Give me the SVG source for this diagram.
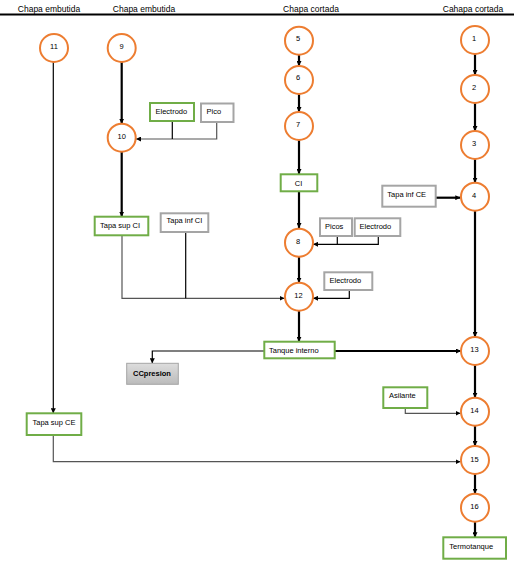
<svg xmlns="http://www.w3.org/2000/svg" width="514" height="571" viewBox="0 0 514 571">
<style>
text{font-family:"Liberation Sans",Arial,sans-serif;font-size:7.5px;fill:#000}
.hd{font-size:8.5px;text-anchor:middle}
.c{fill:#fff;stroke:#ED7D31;stroke-width:2}
.g{fill:#fff;stroke:#70AD47;stroke-width:2}
.y{fill:#fff;stroke:#A5A5A5;stroke-width:2}
.n{text-anchor:middle}
.thick{fill:none;stroke:#000;stroke-width:2.2}
.thin{fill:none;stroke:#000;stroke-width:1.2}
.gr{fill:none;stroke:#555;stroke-width:1.2}
</style>
<defs>
<marker id="a" viewBox="0 0 10 10" refX="10" refY="5" markerWidth="5" markerHeight="5" markerUnits="userSpaceOnUse" orient="auto"><path d="M0,0L10,5L0,10z" fill="#000"/></marker>
<marker id="b" viewBox="0 0 10 10" refX="10" refY="5" markerWidth="5" markerHeight="5" markerUnits="userSpaceOnUse" orient="auto"><path d="M0,0L10,5L0,10z" fill="#000"/></marker>
<linearGradient id="gg" x1="0" y1="0" x2="0" y2="1"><stop offset="0" stop-color="#DDDDDD"/><stop offset="1" stop-color="#BBBBBB"/></linearGradient>
</defs>
<g id="header">
<line x1="0" y1="14.5" x2="514" y2="14.5" stroke="#000" stroke-width="2"/>
<text class="hd" x="49" y="12">Chapa embutida</text>
<text class="hd" x="144" y="12">Chapa embutida</text>
<text class="hd" x="311" y="12">Chapa cortada</text>
<text class="hd" x="473" y="12">Cahapa cortada</text>
</g>
<g id="connectors">
<path class="thick" d="M299,54.7V66" marker-end="url(#a)"/>
<path class="thick" d="M299,94V112" marker-end="url(#a)"/>
<path class="thick" d="M299,140V174" marker-end="url(#a)"/>
<path class="thick" d="M299,191V228" marker-end="url(#a)"/>
<path class="thick" d="M299,256.7V282.7" marker-end="url(#a)"/>
<path class="thick" d="M299,310.7V341.7" marker-end="url(#a)"/>
<path class="thick" d="M475,54V75" marker-end="url(#a)"/>
<path class="thick" d="M475,103V131" marker-end="url(#a)"/>
<path class="thick" d="M475,159V182.7" marker-end="url(#a)"/>
<path class="thick" d="M475,210.7V337" marker-end="url(#a)"/>
<path class="thick" d="M475,365V397.7" marker-end="url(#a)"/>
<path class="thick" d="M475,425.7V446" marker-end="url(#a)"/>
<path class="thick" d="M475,474V493.7" marker-end="url(#a)"/>
<path class="thick" d="M475,521.7V537.3" marker-end="url(#a)"/>
<path class="thick" d="M121.7,62V123.7" marker-end="url(#a)"/>
<path class="thick" d="M121.7,151.7V216.7" marker-end="url(#a)"/>
<path class="thick" d="M435.7,197.7H460.3" marker-end="url(#a)"/>
<path class="thick" d="M334.7,351H461" marker-end="url(#a)"/>
<path class="thin" d="M53.3,62V413.3" marker-end="url(#b)"/>
<path class="gr" d="M216.7,122V139H136" marker-end="url(#b)"/>
<path class="thin" d="M172.3,121V139"/>
<path class="thin" d="M378.3,236V244.3H313" marker-end="url(#b)"/>
<path class="thin" d="M337.3,236V244.3"/>
<path class="thin" d="M349.3,290V298.3H313" marker-end="url(#b)"/>
<path class="gr" d="M122,235.3V298.3H284.5" marker-end="url(#b)"/>
<path class="thin" d="M185.7,232V298.3"/>
<path class="thin" d="M264.3,351H152.3V363.3" marker-end="url(#b)"/>
<path class="gr" d="M405.3,408V413.3H460.5" marker-end="url(#b)"/>
<path class="gr" d="M53.3,435V461.7H460.5" marker-end="url(#b)"/>
</g>
<g id="n11"><circle class="c" cx="54" cy="48" r="14"/><text class="n" x="54" y="49">11</text></g>
<g id="n9"><circle class="c" cx="121.7" cy="48" r="14"/><text class="n" x="121.7" y="49">9</text></g>
<g id="n5"><circle class="c" cx="299" cy="40.7" r="14"/><text class="n" x="298" y="41">5</text></g>
<g id="n6"><circle class="c" cx="299" cy="80" r="14"/><text class="n" x="298" y="80">6</text></g>
<g id="n7"><circle class="c" cx="299" cy="126" r="14"/><text class="n" x="298" y="127">7</text></g>
<g id="n1"><circle class="c" cx="475" cy="40" r="14"/><text class="n" x="474" y="41">1</text></g>
<g id="n2"><circle class="c" cx="475" cy="89" r="14"/><text class="n" x="474" y="90">2</text></g>
<g id="n3"><circle class="c" cx="475" cy="145" r="14"/><text class="n" x="474" y="146">3</text></g>
<g id="n4"><circle class="c" cx="475" cy="196.7" r="14"/><text class="n" x="474" y="198">4</text></g>
<g id="n10"><circle class="c" cx="121.7" cy="137.7" r="14"/><text class="n" x="121.7" y="139">10</text></g>
<g id="n8"><circle class="c" cx="299" cy="242.7" r="14"/><text class="n" x="298" y="244">8</text></g>
<g id="n12"><circle class="c" cx="299" cy="296.7" r="14"/><text class="n" x="298.5" y="298">12</text></g>
<g id="n13"><circle class="c" cx="475" cy="351" r="14"/><text class="n" x="474.5" y="352">13</text></g>
<g id="n14"><circle class="c" cx="475" cy="411.7" r="14"/><text class="n" x="474.5" y="413">14</text></g>
<g id="n15"><circle class="c" cx="475" cy="460" r="14"/><text class="n" x="474.5" y="461.5">15</text></g>
<g id="n16"><circle class="c" cx="475" cy="507.7" r="14"/><text class="n" x="474.5" y="509">16</text></g>
<g id="electrodo1"><rect class="g" x="150" y="103" width="44" height="18"/><text x="155.5" y="113.5">Electrodo</text></g>
<g id="pico"><rect class="y" x="201" y="103.5" width="32.5" height="18.5"/><text x="206.5" y="114">Pico</text></g>
<g id="tapasupci"><rect class="g" x="94.7" y="216.7" width="53.6" height="18.6"/><text x="100" y="228">Tapa sup CI</text></g>
<g id="tapainfci"><rect class="y" x="160.7" y="213.3" width="47.6" height="18.7"/><text x="166.5" y="222.5">Tapa inf CI</text></g>
<g id="ci"><rect class="g" x="280.7" y="174.3" width="36.6" height="17"/><text class="n" x="298.5" y="185.5">CI</text></g>
<g id="picos"><rect class="y" x="320" y="218.3" width="32" height="17.7"/><text x="325" y="228.5">Picos</text></g>
<g id="electrodo2"><rect class="y" x="354.7" y="218.3" width="45.6" height="17.7"/><text x="359.5" y="228.5">Electrodo</text></g>
<g id="electrodo3"><rect class="y" x="324.3" y="272.3" width="48" height="17.7"/><text x="329.5" y="282.5">Electrodo</text></g>
<g id="tapainfce"><rect class="y" x="382.3" y="185.7" width="53.4" height="21"/><text x="387.3" y="196.5">Tapa inf CE</text></g>
<g id="tanque"><rect class="g" x="264.3" y="341.7" width="70.4" height="16.6"/><text x="269" y="353">Tanque interno</text></g>
<g id="ccpresion"><rect x="126.7" y="363.3" width="51.6" height="21" fill="url(#gg)" stroke="#A5A5A5" stroke-width="1"/><text x="133" y="376" font-weight="bold">CCpresion</text></g>
<g id="asilante"><rect class="g" x="383.3" y="387.3" width="44" height="20.7"/><text x="389" y="398">Asilante</text></g>
<g id="tapasupce"><rect class="g" x="26.7" y="413.3" width="54.6" height="21.7"/><text x="32.5" y="424.5">Tapa sup CE</text></g>
<g id="termotanque"><rect class="g" x="443.3" y="537.3" width="62.7" height="21.4"/><text x="449.3" y="548.5">Termotanque</text></g>
</svg>
